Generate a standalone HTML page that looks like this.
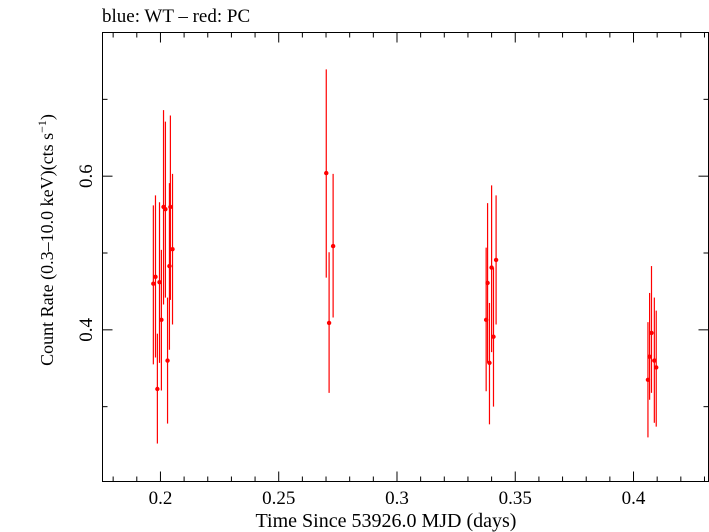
<!DOCTYPE html>
<html><head><meta charset="utf-8"><style>
html,body{margin:0;padding:0;background:#fff;}
svg{display:block;font-family:"Liberation Serif",serif;}
</style></head><body>
<svg id="chart" width="709" height="532" viewBox="0 0 709 532" xmlns="http://www.w3.org/2000/svg">
<text x="102" y="22" font-size="19">blue: WT – red: PC</text>
<rect x="102.5" y="32.5" width="606" height="449" fill="none" stroke="#000" stroke-width="1"/>
<g id="ticks"></g>
<g id="marks"></g>
<text x="386" y="527" font-size="20" text-anchor="middle">Time Since 53926.0 MJD (days)</text>
<text transform="translate(53,240) rotate(-90)" font-size="18" text-anchor="middle">Count Rate (0.3–10.0 keV)(cts s<tspan font-size="12" dy="-7">−1</tspan><tspan dy="7">)</tspan></text>
</svg>
<script>
const times=[0.1970,0.1979,0.1987,0.1996,0.2004,0.2013,0.2021,0.2030,0.2038,0.2042,0.2051,
0.2701,0.2713,0.2730,
0.3377,0.3383,0.3391,0.3400,0.3408,0.3419,
0.4061,0.4068,0.4076,0.4088,0.4096];
const rates=[0.460,0.469,0.323,0.462,0.413,0.560,0.557,0.360,0.483,0.560,0.505,
0.604,0.409,0.509,
0.413,0.461,0.357,0.481,0.391,0.491,
0.335,0.365,0.396,0.360,0.351];
const rateHi=[0.562,0.575,0.395,0.566,0.504,0.686,0.671,0.442,0.591,0.679,0.603,
0.739,0.501,0.603,
0.507,0.565,0.435,0.588,0.481,0.575,
0.410,0.448,0.483,0.442,0.425];
const rateLo=[0.355,0.364,0.252,0.357,0.321,0.433,0.442,0.278,0.374,0.439,0.407,
0.468,0.318,0.416,
0.320,0.357,0.277,0.371,0.300,0.407,
0.260,0.309,0.318,0.279,0.274];
const xMajor=[0.2,0.25,0.3,0.35,0.4];
const xMajorLabels=["0.2","0.25","0.3","0.35","0.4"];
const yMajor=[0.4,0.6];
const yMajorLabels=["0.4","0.6"];
const yMinor=[0.3,0.5,0.7];

const L=102.5,R=708.5,T=32.5,B=481.5;
const xmin=0.1755,xmax=0.4317,ymin=0.2026,ymax=0.787;
const X=v=>L+(v-xmin)/(xmax-xmin)*(R-L);
const Y=v=>B-(v-ymin)/(ymax-ymin)*(B-T);
const NS="http://www.w3.org/2000/svg";
function mk(tag,attrs,parent){const e=document.createElementNS(NS,tag);for(const k in attrs)e.setAttribute(k,attrs[k]);parent.appendChild(e);return e;}
const tg=document.getElementById('ticks');
for(let i=18;i<=43;i++){const v=i/100;const x=X(v);if(x<L||x>R)continue;
 const major=(i%5===0);const len=major?10:5;
 const t1=mk('line',{x1:x,x2:x,y1:B,y2:B-len,stroke:'#000'},tg);
 
 
 const t2=mk('line',{x1:x,x2:x,y1:T,y2:T+len,stroke:'#000'},tg);
 
 
}
xMajor.forEach((v,i)=>{const t=mk('text',{x:X(v),y:504,'font-size':19,'text-anchor':'middle'},tg);t.textContent=xMajorLabels[i];
 
 });
yMajor.forEach((v,i)=>{const y=Y(v);
 const a=mk('line',{x1:L,x2:L+10,y1:y,y2:y,stroke:'#000'},tg);
 
 
 const b=mk('line',{x1:R,x2:R-10,y1:y,y2:y,stroke:'#000'},tg);
 
 
 const t=mk('text',{transform:`translate(92,${y}) rotate(-90)`,'font-size':19,'text-anchor':'middle'},tg);t.textContent=yMajorLabels[i];
 
 });
yMinor.forEach(v=>{const y=Y(v);
 const a=mk('line',{x1:L,x2:L+5,y1:y,y2:y,stroke:'#000'},tg);
 
 
 const b=mk('line',{x1:R,x2:R-5,y1:y,y2:y,stroke:'#000'},tg);
 
 });
const mg=document.getElementById('marks');
times.forEach((t,i)=>{const x=X(t);
 const l=mk('line',{x1:x,x2:x,y1:Y(rateHi[i]),y2:Y(rateLo[i]),stroke:'#f00','stroke-width':1.2},mg);
 
 
 const c=mk('circle',{cx:x,cy:Y(rates[i]),r:2.2,fill:'#f00'},mg);
 
 
});
</script>
</body></html>
